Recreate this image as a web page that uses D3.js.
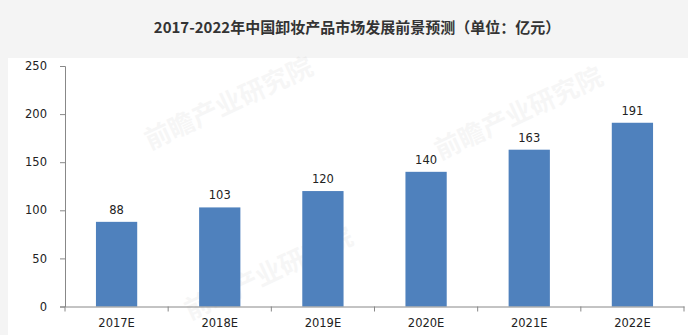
<!DOCTYPE html>
<html>
<head>
<meta charset="utf-8">
<script src="https://cdn.jsdelivr.net/npm/d3@7"></script>
<style>
  body { margin: 0; background: #f4f4f4; }
  svg { display: block; }
</style>
</head>
<body>
<svg id="chart" width="688" height="335"></svg>
<script>
// chart data
var years = ["2017E", "2018E", "2019E", "2020E", "2021E", "2022E"];
var values = [88, 103, 120, 140, 163, 191];
var yTicks = [0, 50, 100, 150, 200, 250];
var title = "2017-2022年中国卸妆产品市场发展前景预测（单位：亿元）";
var watermark = "前瞻产业研究院";

var svg = d3.select("#chart");

// gray page, white plot panel
svg.append("rect").attr("x", 0).attr("y", 0).attr("width", 688).attr("height", 335).attr("fill", "#f4f4f4");
svg.append("rect").attr("x", 8).attr("y", 58).attr("width", 680).attr("height", 277).attr("fill", "#ffffff");

// title
svg.append("text")
  .attr("x", 357).attr("y", 33)
  .attr("text-anchor", "middle")
  .style("font-family", "'Noto Sans CJK SC', sans-serif")
  .style("font-weight", "bold")
  .style("font-size", "15px")
  .style("fill", "#333")
  .text(title);

// faint watermarks, kept inside the white panel
var wm = [[150, 150], [440, 160], [190, 320]];
wm.forEach(function(p){
  svg.append("text")
    .attr("transform", "translate(" + p[0] + "," + p[1] + ") rotate(-25)")
    .style("font-family", "'Noto Sans CJK SC', sans-serif")
    .style("font-weight", "bold")
    .style("font-size", "26px")
    .style("fill", "#000")
    .style("opacity", 0.03)
    .text(watermark);
});

var x = d3.scaleBand().domain(years).range([65, 684]).paddingInner(0.6).paddingOuter(0.3);
var xb = d3.scaleBand().domain(years).range([65, 684]);
var y = d3.scaleLinear().domain([0, 250]).range([306.5, 66]);

// bars
svg.append("g").selectAll("rect")
  .data(values)
  .enter().append("rect")
  .attr("x", function(d, i){ return x(years[i]); })
  .attr("y", function(d){ return y(d); })
  .attr("width", x.bandwidth())
  .attr("height", function(d){ return y(0) - y(d); })
  .attr("fill", "#4f81bd");

// value labels
svg.append("g").selectAll("text")
  .data(values)
  .enter().append("text")
  .attr("x", function(d, i){ return x(years[i]) + x.bandwidth() / 2; })
  .attr("y", function(d){ return y(d) - 8; })
  .attr("text-anchor", "middle")
  .style("font-family", "'DejaVu Sans', sans-serif")
  .style("font-size", "11.5px")
  .style("fill", "#222")
  .text(function(d){ return d; });

// y axis
var yAxis = svg.append("g")
  .attr("transform", "translate(65,0)")
  .call(d3.axisLeft(y).tickValues(yTicks).tickSize(5).tickPadding(13));

// x axis with ticks at band edges
var xAxis = svg.append("g")
  .attr("transform", "translate(0," + y(0) + ")")
  .call(d3.axisBottom(xb).tickSize(0).tickPadding(12));
xAxis.selectAll(".edge")
  .data(years.concat(["end"]))
  .enter().append("line")
  .attr("class", "edge")
  .attr("x1", function(d, i){ return 65 + i * xb.bandwidth(); })
  .attr("x2", function(d, i){ return 65 + i * xb.bandwidth(); })
  .attr("y1", 0).attr("y2", 5)
  .attr("stroke", "#888");

[yAxis, xAxis].forEach(function(a){
  a.select(".domain").attr("stroke", "#888");
  a.selectAll(".tick line").attr("stroke", "#888");
  a.selectAll("text")
    .style("font-family", "'DejaVu Sans', sans-serif")
    .style("font-size", "11.5px")
    .style("fill", "#222");
});
</script>
</body>
</html>
